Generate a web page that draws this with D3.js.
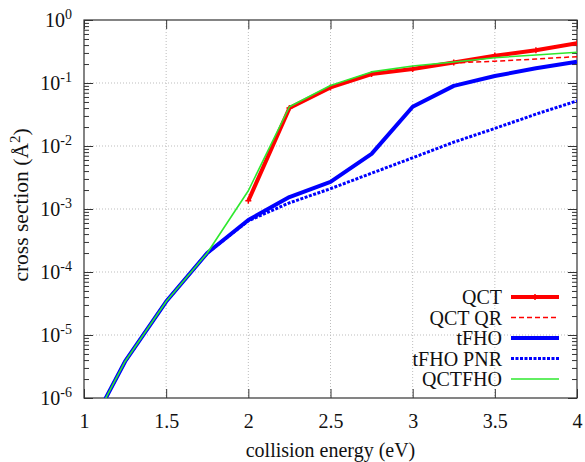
<!DOCTYPE html>
<html>
<head>
<meta charset="utf-8">
<script src="https://cdn.jsdelivr.net/npm/d3@7"></script>
<style>
  body { margin: 0; background: #fff; }
  text { font-family: "Liberation Serif", "DejaVu Serif", serif; fill: #111; }
</style>
</head>
<body>
<svg width="585" height="462"></svg>
<script>
// collision energies (eV)
var energies = [1.0, 1.25, 1.5, 1.75, 2, 2.25, 2.5, 2.75, 3, 3.25, 3.5, 3.75, 4];
// QCT runs start at 2 eV
var qctEnergies = [2, 2.25, 2.5, 2.75, 3, 3.25, 3.5, 3.75, 4];

var qct     = [1.35e-3, 0.040, 0.085, 0.139, 0.167, 0.212, 0.272, 0.330, 0.427];
var qctQR   = [1.35e-3, 0.040, 0.085, 0.139, 0.167, 0.208, 0.222, 0.240, 0.262];
var tfho    = [2.2e-7, 3.8e-6, 3.4e-5, 2.0e-4, 6.7e-4, 1.55e-3, 2.7e-3, 7.5e-3, 0.042, 0.090, 0.129, 0.171, 0.218];
var tfhoPNR = [2.2e-7, 3.8e-6, 3.4e-5, 2.0e-4, 6.5e-4, 1.25e-3, 2.1e-3, 3.7e-3, 6.5e-3, 1.15e-2, 1.9e-2, 3.2e-2, 5.2e-2];
var qctfho  = [2.2e-7, 3.8e-6, 3.4e-5, 2.0e-4, 1.95e-3, 0.042, 0.091, 0.150, 0.186, 0.215, 0.252, 0.279, 0.307];

var xTicks = [1, 1.5, 2, 2.5, 3, 3.5, 4];
var yExponents = [0, -1, -2, -3, -4, -5, -6];

// plot box (don't call it "top", that's window.top)
var mLeft = 84, mRight = 577, mTop = 20, mBottom = 398;

var svg = d3.select("svg");

var x = d3.scaleLinear().domain([1, 4]).range([mLeft, mRight]);
var y = d3.scaleLog().domain([1e-6, 1]).range([mBottom, mTop]);

// grid
var grid = svg.append("g")
  .attr("stroke", "#bdbdbd")
  .attr("stroke-width", 1)
  .attr("stroke-dasharray", "1,2");

grid.selectAll(".gx")
  .data(xTicks.slice(1, -1))
  .enter().append("line")
  .attr("x1", d => x(d)).attr("x2", d => x(d))
  .attr("y1", mTop).attr("y2", mBottom);

grid.selectAll(".gy")
  .data(yExponents.slice(1, -1))
  .enter().append("line")
  .attr("x1", mLeft).attr("x2", mRight)
  .attr("y1", d => y(Math.pow(10, d))).attr("y2", d => y(Math.pow(10, d)));

// axes, ticks point inwards like gnuplot
var xBottom = d3.axisBottom(x).tickValues(xTicks).tickSize(-9).tickPadding(16)
  .tickFormat(d3.format("~g"));
var xTop = d3.axisTop(x).tickValues(xTicks).tickSize(-9).tickFormat("");

var minorVals = [];
yExponents.forEach(function (e) {
  if (e == 0) return;
  for (var k = 2; k <= 9; k++) minorVals.push(k * Math.pow(10, e));
});

var axisStyle = function (g) {
  g.select(".domain").remove();
  g.selectAll("line").attr("stroke", "#333");
  g.selectAll("text").style("font-size", "20px")
    .style("font-family", "'Liberation Serif', serif").attr("fill", "#111");
};

svg.append("g").attr("transform", "translate(0," + mBottom + ")").call(xBottom).call(axisStyle);
svg.append("g").attr("transform", "translate(0," + mTop + ")").call(xTop).call(axisStyle);

[[mLeft, d3.axisLeft], [mRight, d3.axisRight]].forEach(function (s) {
  svg.append("g").attr("transform", "translate(" + s[0] + ",0)")
    .call(s[1](y).tickValues(minorVals).tickSize(-5).tickFormat(""))
    .call(axisStyle);
  svg.append("g").attr("transform", "translate(" + s[0] + ",0)")
    .call(s[1](y).tickValues(yExponents.map(e => Math.pow(10, e))).tickSize(-9).tickFormat(""))
    .call(axisStyle);
});

// y tick labels as 10^n
var ylab = svg.append("g").selectAll("text")
  .data(yExponents)
  .enter().append("text")
  .attr("x", 72)
  .attr("y", d => y(Math.pow(10, d)) + 7)
  .attr("text-anchor", "end")
  .style("font-size", "20px");
ylab.append("tspan").text("10");
ylab.append("tspan").attr("dy", -8).style("font-size", "14px").text(d => d);

// border
svg.append("rect")
  .attr("x", mLeft).attr("y", mTop)
  .attr("width", mRight - mLeft).attr("height", mBottom - mTop)
  .attr("fill", "none").attr("stroke", "#333").attr("stroke-width", 1.2);

// axis titles
svg.append("text")
  .attr("x", (mLeft + mRight) / 2).attr("y", 457)
  .attr("text-anchor", "middle")
  .style("font-size", "20px")
  .text("collision energy (eV)");

var yt = svg.append("text")
  .attr("transform", "translate(28,205) rotate(-90)")
  .attr("text-anchor", "middle")
  .style("font-size", "21.5px");
yt.append("tspan").text("cross section (Å");
yt.append("tspan").attr("dy", -8).style("font-size", "15px").text("2");
yt.append("tspan").attr("dy", 8).text(")");

// curves
svg.append("clipPath").attr("id", "clip")
  .append("rect").attr("x", mLeft).attr("y", mTop)
  .attr("width", mRight - mLeft).attr("height", mBottom - mTop);

var plot = svg.append("g").attr("clip-path", "url(#clip)");

var line = d3.line().x(d => x(d[0])).y(d => y(d[1]));

var series = [
  { name: "QCT", xs: qctEnergies, ys: qct, color: "#ff0000", width: 4, dash: null, marks: true },
  { name: "QCT QR", xs: qctEnergies, ys: qctQR, color: "#ff0000", width: 1.5, dash: "5,3" },
  { name: "tFHO", xs: energies, ys: tfho, color: "#0000ff", width: 4, dash: null },
  { name: "tFHO PNR", xs: energies, ys: tfhoPNR, color: "#0000ff", width: 3, dash: "3,1.5" },
  { name: "QCTFHO", xs: energies, ys: qctfho, color: "#2ee82e", width: 1.6, dash: null }
];

series.forEach(function (s) {
  var pts = s.xs.map((e, i) => [e, s.ys[i]]);
  plot.append("path")
    .datum(pts)
    .attr("fill", "none")
    .attr("stroke", s.color)
    .attr("stroke-width", s.width)
    .attr("stroke-dasharray", s.dash)
    .attr("stroke-linejoin", "round")
    .attr("d", line);
  if (s.marks) {
    plot.selectAll(null)
      .data(pts)
      .enter().append("path")
      .attr("d", d => "M" + (x(d[0]) - 3) + "," + y(d[1]) + "h6M" + x(d[0]) + "," + (y(d[1]) - 3) + "v6")
      .attr("stroke", s.color)
      .attr("stroke-width", 1.5);
  }
});

// legend
var legend = svg.append("g");
series.forEach(function (s, i) {
  var ly = 297 + i * 20.5;
  legend.append("text")
    .attr("x", 502).attr("y", ly + 7)
    .attr("text-anchor", "end")
    .style("font-size", "20px")
    .text(s.name);
  legend.append("line")
    .attr("x1", 511).attr("x2", 559)
    .attr("y1", ly).attr("y2", ly)
    .attr("stroke", s.color)
    .attr("stroke-width", s.width)
    .attr("stroke-dasharray", s.dash);
  if (s.marks) {
    legend.append("path")
      .attr("d", "M532," + ly + "h6M535," + (ly - 3) + "v6")
      .attr("stroke", s.color).attr("stroke-width", 1.5);
  }
});
</script>
</body>
</html>
